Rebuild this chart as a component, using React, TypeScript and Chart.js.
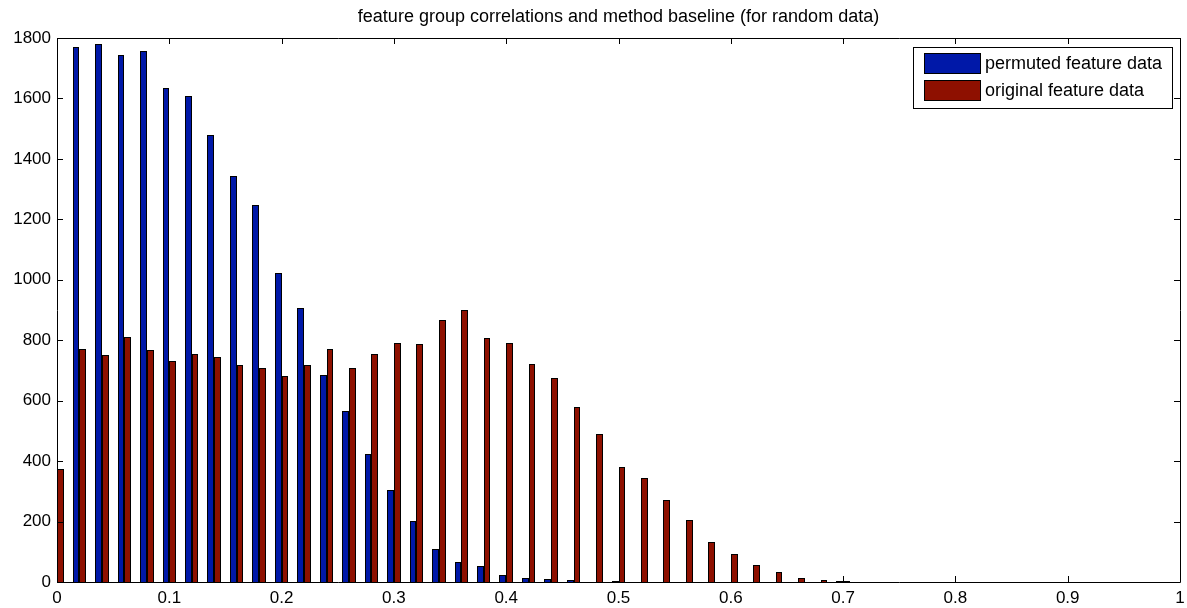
import React, { useEffect, useRef } from "react";
import { Chart, registerables } from "chart.js";

Chart.register(...registerables);

const titleText = "feature group correlations and method baseline (for random data)";
const binCenters = [
  0, 0.02, 0.04, 0.06, 0.08, 0.1, 0.12, 0.14, 0.16, 0.18, 0.2, 0.22, 0.24, 0.26, 0.28, 0.3,
  0.32, 0.34, 0.36, 0.38, 0.4, 0.42, 0.44, 0.46, 0.48, 0.5, 0.52, 0.54, 0.56, 0.58, 0.6,
  0.62, 0.64, 0.66, 0.68, 0.7,
];
const permutedCounts = [
  0, 1770, 1780, 1745, 1757, 1635, 1607, 1480, 1345, 1248, 1024, 908, 685, 565, 425, 304,
  201, 108, 66, 53, 24, 14, 10, 5, 0, 4, 0, 0, 0, 0, 0,
  0, 0, 0, 0, 3,
];
const originalCounts = [
  375, 772, 750, 810, 768, 732, 755, 745, 718, 707, 680, 718, 772, 707, 755, 790,
  787, 867, 899, 806, 792, 722, 676, 579, 490, 381, 345, 271, 206, 131, 94,
  57, 33, 14, 6, 4,
];
const seriesLabels = ["permuted feature data", "original feature data"];
const xTicks = [0, 0.1, 0.2, 0.3, 0.4, 0.5, 0.6, 0.7, 0.8, 0.9, 1];
const yTicks = [0, 200, 400, 600, 800, 1000, 1200, 1400, 1600, 1800];

const BLUE = "#0018a8";
const RED = "#8e1000";
const FONT = "'Liberation Sans', Arial, sans-serif";

// snap bar rectangles (positioned by Chart.js) to whole pixels for crisp outlines
const snapPlugin = {
  id: "snapBars",
  beforeDatasetsDraw(chart: any) {
    chart.data.datasets.forEach((_: any, di: number) => {
      const meta = chart.getDatasetMeta(di);
      meta.data.forEach((el: any) => {
        const l = Math.round(el.x - el.width / 2);
        const r = Math.round(el.x + el.width / 2);
        el.x = (l + r) / 2;
        el.width = r - l;
        el.y = Math.round(el.y);
        el.base = Math.round(el.base) + 1;
      });
    });
  },
};

const boxPlugin = {
  id: "matlabBox",
  afterDraw(chart: any) {
    const { ctx, chartArea } = chart;
    const { left, right, top, bottom } = chartArea;
    const xs = chart.scales.x;
    const ys = chart.scales.y;
    ctx.save();
    // title centred over the axes
    ctx.fillStyle = "#000";
    ctx.font = `18px ${FONT}`;
    ctx.textAlign = "center";
    ctx.textBaseline = "middle";
    ctx.fillText(titleText, (left + right) / 2, 17);

    ctx.strokeStyle = "#000";
    ctx.lineWidth = 1;
    ctx.beginPath();
    ctx.rect(Math.round(left) + 0.5, Math.round(top) + 0.5, Math.round(right - left), Math.round(bottom - top));
    ctx.stroke();
    const tl = 6;
    ctx.beginPath();
    xs.ticks.forEach((t: any) => {
      const px = Math.round(xs.getPixelForValue(t.value)) + 0.5;
      ctx.moveTo(px, bottom);
      ctx.lineTo(px, bottom - tl);
      ctx.moveTo(px, top);
      ctx.lineTo(px, top + tl);
    });
    ys.ticks.forEach((t: any) => {
      const py = Math.round(ys.getPixelForValue(t.value)) + 0.5;
      ctx.moveTo(left, py);
      ctx.lineTo(left + tl, py);
      ctx.moveTo(right, py);
      ctx.lineTo(right - tl, py);
    });
    ctx.stroke();

    // legend box
    const lx = 913.5, ly = 47.5, lw = 259, lh = 61;
    ctx.fillStyle = "#fff";
    ctx.fillRect(lx, ly, lw, lh);
    ctx.strokeRect(lx, ly, lw, lh);
    ctx.font = `18px ${FONT}`;
    ctx.textBaseline = "middle";
    ctx.textAlign = "left";
    chart.data.datasets.forEach((ds: any, i: number) => {
      const sy = 53.5 + i * 27;
      ctx.fillStyle = ds.backgroundColor;
      ctx.fillRect(924.5, sy, 56, 20);
      ctx.strokeRect(924.5, sy, 56, 20);
      ctx.fillStyle = "#000";
      ctx.fillText(ds.label, 985, sy + 11);
    });
    ctx.restore();
  },
};

export default function App() {
  const ref = useRef<HTMLCanvasElement>(null);
  useEffect(() => {
    document.body.style.margin = "0";
    const common = {
      borderColor: "#000",
      borderWidth: 1,
      borderSkipped: false,
      inflateAmount: 0,
      categoryPercentage: 0.6,
      barPercentage: 1,
    };
    const chart = new Chart(ref.current!, {
      type: "bar",
      data: {
        datasets: [
          {
            label: seriesLabels[0],
            data: binCenters.map((x, i) => ({ x, y: permutedCounts[i] })),
            backgroundColor: BLUE,
            ...common,
          },
          {
            label: seriesLabels[1],
            data: binCenters.map((x, i) => ({ x, y: originalCounts[i] })),
            backgroundColor: RED,
            ...common,
          },
        ],
      },
      options: {
        animation: false,
        responsive: false,
        layout: { padding: { left: 0, right: 7, top: 38, bottom: 0 } },
        plugins: {
          legend: { display: false },
          tooltip: { enabled: false },
          title: { display: false },
        },
        scales: {
          x: {
            type: "linear",
            min: 0,
            max: 1,
            offset: false,
            afterBuildTicks: (s: any) => {
              s.ticks = xTicks.map((v) => ({ value: v }));
            },
            afterFit: (s: any) => {
              s.height = 26;
              s.paddingLeft = 0;
              s.paddingRight = 0;
            },
            grid: { display: false, drawTicks: false },
            border: { display: false },
            ticks: {
              color: "#000",
              font: { family: FONT, size: 17 },
              padding: 6,
              maxRotation: 0,
              callback: (v: any) => String(v),
            },
          },
          y: {
            min: 0,
            max: 1800,
            afterBuildTicks: (s: any) => {
              s.ticks = yTicks.map((v) => ({ value: v }));
            },
            afterFit: (s: any) => {
              s.width = 57;
              s.paddingTop = 0;
              s.paddingBottom = 0;
            },
            grid: { display: false, drawTicks: false },
            border: { display: false },
            ticks: {
              color: "#000",
              font: { family: FONT, size: 17 },
              padding: 6,
              callback: (v: any) => String(v),
            },
          },
        },
      },
      plugins: [snapPlugin, boxPlugin],
    });
    return () => chart.destroy();
  }, []);
  return <canvas ref={ref} width={1187} height={608} style={{ display: "block" }} />;
}
